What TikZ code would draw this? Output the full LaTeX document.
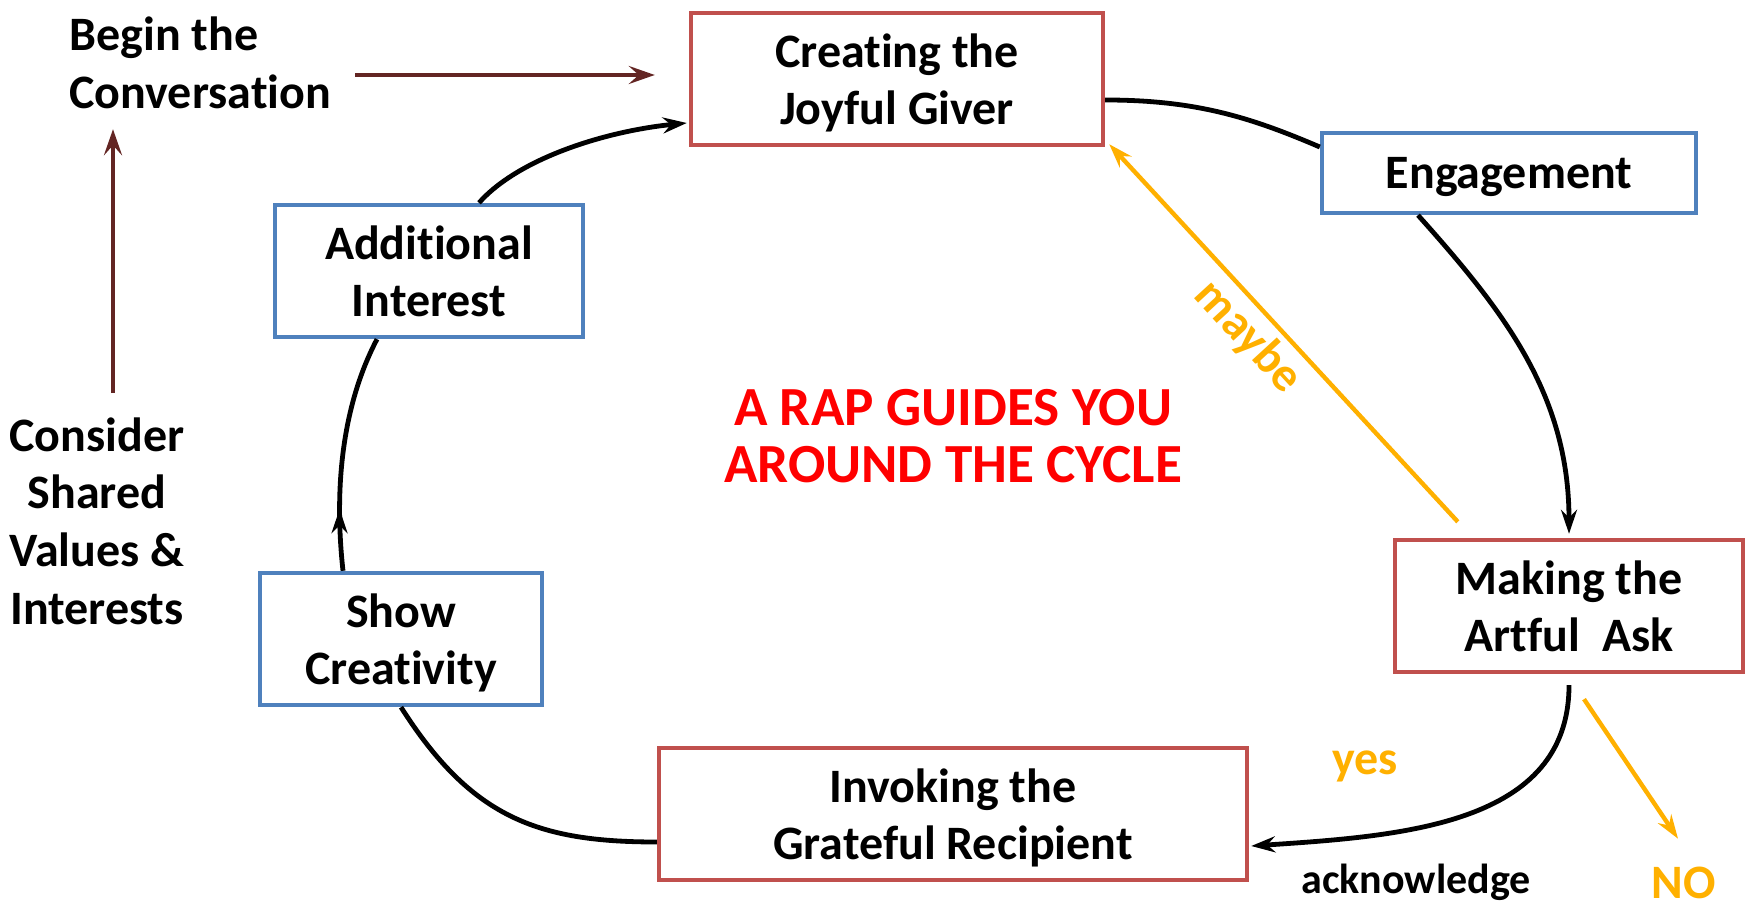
\documentclass[tikz,border=0pt]{standalone}
\usepackage{fontspec}
\setmainfont{Carlito}[Ligatures=NoCommon]
\usetikzlibrary{arrows.meta,calc,decorations.markings}
\definecolor{boxred}{HTML}{C0504D}
\definecolor{boxblue}{HTML}{4F81BD}
\definecolor{amber}{HTML}{FFB000}
\definecolor{darkred}{HTML}{632523}
\definecolor{titlered}{HTML}{FF0000}
\begin{document}
\begin{tikzpicture}[x=0.5pt,y=-0.5pt,
  base/.style={font=\fontsize{24}{28.8}\selectfont\bfseries, inner sep=0pt},
  stage/.style={base, draw, line width=2.2pt, fill=white, align=center, text depth=0pt},
  redbox/.style={stage, draw=boxred},
  bluebox/.style={stage, draw=boxblue},
  tipA/.style={-{Stealth[length=12pt,width=8pt,inset=4pt]}},
  cyc/.style={line width=2.4pt, black},
  darr/.style={line width=2.2pt, darkred, -{Stealth[length=13pt,width=9pt,inset=5pt]}},
  oarr/.style={line width=2.2pt, amber, -{Stealth[length=12pt,width=8pt,inset=4pt]}},
  olabel/.style={base, text=amber},
]
\useasboundingbox (0,0) rectangle (1748,908);

% stage boxes
\node[redbox, minimum width=206pt, minimum height=66pt] (cj) at (897,79) {Creating the\\Joyful Giver};
\node[bluebox, minimum width=187pt, minimum height=40pt] (en) at (1509,173) {Engagement};
\node[redbox, minimum width=174pt, minimum height=66pt] (ma) at (1569,606) {Making the\\Artful\ \ Ask};
\node[redbox, minimum width=294pt, minimum height=66pt] (iv) at (953,814) {Invoking the\\Grateful Recipient};
\node[bluebox, minimum width=141pt, minimum height=66pt] (sc) at (401,639) {Show\\Creativity};
\node[bluebox, minimum width=154pt, minimum height=66pt] (ad) at (429,271) {Additional\\Interest};

% free texts
\node[base, align=left, anchor=west] (bg) at (69,63) {Begin the\\Conversation};
\node[base, align=center] (cs) at (97,521) {Consider\\Shared\\Values \&\\Interests};
\node[base, align=center, text=titlered, font=\fontsize{27.6}{28.5}\selectfont\bfseries] (title) at (953,436) {A RAP GUIDES YOU\\AROUND THE CYCLE};
\node[olabel, rotate=-47.5] (maybe) at (1248,337) {maybe};
\node[olabel] (yes) at (1365,766) {yes};
\node[olabel] (no) at (1684,883) {NO};
\node[base, font=\fontsize{21}{25}\selectfont\bfseries] (ack) at (1416,882) {acknowledge};

% cycle
\draw[cyc] ($(cj.east)+(0,21)$) .. controls +(90,0) and +(-70,-30) .. ($(en.west)+(0,-26)$);
\draw[cyc, tipA] ($(en.south)+(-91,0)$) .. controls +(85,95) and +(0,-140) .. ($(ma.north)+(0,-4)$);
\draw[cyc, tipA] ($(ma.south)+(0,11)$) .. controls +(0,140) and +(150,-10) .. ($(iv.east)+(2,32)$);
\draw[cyc] ($(iv.west)+(0,28)$) .. controls +(-120,0) and +(70,110) .. (sc.south);
\draw[cyc, postaction={decorate}, decoration={markings,
    mark=at position 0.26 with {\arrow{Stealth[length=12pt,width=8pt,inset=4pt]}}}]
  ($(sc.north)+(-58,0)$) .. controls +(-10,-91) and +(-32,61) .. ($(ad.south)+(-52,0)$);
\draw[cyc, tipA] ($(ad.north)+(50,0)$) .. controls +(40,-45) and +(-80,8) .. ($(cj.west)+(-2,44)$);

% conversation arrows
\draw[darr] ($(bg.east)+(24,12)$) -- ($(cj.west)+(-34,-4)$);
\draw[darr] ($(cs.north)+(16,-24)$) -- ($(bg.south west)+(44,20)$);

% decision arrows
\draw[oarr] ($(ma.north west)+(65,-16)$) -- ($(cj.south east)+(4,-3)$);
\draw[oarr] ($(ma.south)+(15,25)$) -- ($(no.north)+(-6,-28)$);
\end{tikzpicture}
\end{document}
